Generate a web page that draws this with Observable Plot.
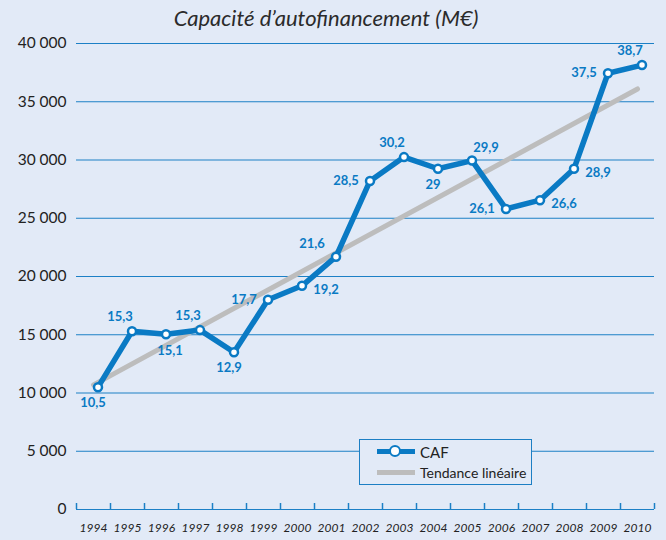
<!DOCTYPE html>
<html>
<head>
<meta charset="utf-8">
<script src="https://cdn.jsdelivr.net/npm/d3@7"></script>
<script src="https://cdn.jsdelivr.net/npm/@observablehq/plot@0.6"></script>
<style>
  html, body { margin: 0; padding: 0; background: #e2eaf7; }
  #wrap { position: relative; width: 666px; height: 540px; background: #e2eaf7; overflow: hidden; font-family: Lato, "Open Sans", sans-serif; }
  #title { height: 30px; line-height: 30px; font-size: 22px; font-style: italic; color: #2b2b2b; text-align: center; position: relative; left: -7px; top: 3px; }
  #legend { position: absolute; left: 359px; top: 439px; width: 173px; height: 46px; border: 1px solid #1c7fc4; background: #e2eaf7; box-sizing: border-box; }
  .lg-row { position: absolute; left: 0; width: 100%; height: 20px; }
  .lg-line { position: absolute; left: 17px; width: 38px; height: 5px; }
  .lg-text { position: absolute; left: 60px; font-size: 14px; color: #222; white-space: nowrap; }
  .lg-dot { position: absolute; left: 29px; width: 8px; height: 8px; border-radius: 50%; background: #fff; border: 2.5px solid #0a7ac4; }
</style>
</head>
<body>
<div id="wrap">
  <div id="title">Capacité d’autofinancement (M€)</div>
  <div id="chart"></div>
  <div id="legend">
    <div class="lg-row" style="top:2px">
      <div class="lg-line" style="top:7px;background:#0a7ac4"></div>
      <div class="lg-dot" style="top:2.5px"></div>
      <div class="lg-text" style="top:1px;font-size:15px">CAF</div>
    </div>
    <div class="lg-row" style="top:22px">
      <div class="lg-line" style="top:8px;background:#bdbdbd"></div>
      <div class="lg-text" style="top:2px">Tendance linéaire</div>
    </div>
  </div>
</div>
<script>
const years = [1994, 1995, 1996, 1997, 1998, 1999, 2000, 2001, 2002, 2003, 2004, 2005, 2006, 2007, 2008, 2009, 2010];
const cafValues = [10500, 15300, 15050, 15400, 13500, 18000, 19200, 21700, 28200, 30250, 29250, 29950, 25800, 26550, 29250, 37450, 38150];
const cafLabels = ["10,5", "15,3", "15,1", "15,3", "12,9", "17,7", "19,2", "21,6", "28,5", "30,2", "29", "29,9", "26,1", "26,6", "28,9", "37,5", "38,7"];
const labelPlacement = ["below", "above", "belowRight", "above", "below", "left", "right", "aboveLeft", "left", "above", "below", "aboveRight", "left", "right", "right", "left", "above"];
const trendYears = [1994, 2010];
const trendValues = [10700, 36100];
const yTicks = [0, 5000, 10000, 15000, 20000, 25000, 30000, 35000, 40000];

const blue = "#0a7ac4";
const gridBlue = "#1c80c6";
const offsets = {
  below: [-5, 16], belowRight: [4, 17], above: [-12, -14], aboveLeft: [-24, -13],
  aboveRight: [14, -13], left: [-24, 0], right: [24, 4]
};

const caf = years.map((year, i) => ({year, value: cafValues[i], label: cafLabels[i], place: labelPlacement[i]}));
const trend = trendYears.map((year, i) => ({year, value: trendValues[i]}));
const bounds = [...years.map(y => y - 0.5), years[years.length - 1] + 0.5];
const fmt = v => d3.format(",")(v).replace(/,/g, "\u202f");

const labelMarks = Object.entries(offsets).map(([place, [dx, dy]]) =>
  Plot.text(caf.filter(d => d.place === place), {
    x: "year", y: "value", text: "label", dx: 4.5 + dx, dy,
    fill: blue, fontWeight: "bold", fontSize: 13, textAnchor: "middle", lineAnchor: "middle"
  })
);

const chart = Plot.plot({
  width: 666,
  height: 510,
  marginLeft: 76,
  marginRight: 12,
  marginTop: 13,
  marginBottom: 31,
  style: {fontFamily: "Lato, 'Open Sans', sans-serif", background: "transparent", overflow: "visible"},
  x: {domain: [bounds[0], bounds[bounds.length - 1]]},
  y: {domain: [0, 40000]},
  marks: [
    Plot.ruleY(yTicks, {stroke: gridBlue, strokeWidth: 1.2}),
    Plot.axisY({ticks: yTicks, tickSize: 0, tickPadding: 10, tickFormat: fmt, fontSize: 15.5, fill: "#222", label: null}),
    Plot.axisX({ticks: bounds, tickSize: 6, dy: -6, tickFormat: () => "", stroke: gridBlue, strokeWidth: 1.5, label: null}),
    Plot.axisX({ticks: years, tickSize: 0, tickPadding: 14, tickFormat: d => String(d), fontSize: 12, fontStyle: "italic", fill: "#222", label: null}),
    Plot.line(trend, {x: "year", y: "value", stroke: "#bdbdbd", strokeWidth: 5}),
    Plot.line(caf, {x: "year", y: "value", stroke: blue, strokeWidth: 5.5, dx: 4.5}),
    Plot.dot(caf, {x: "year", y: "value", r: 4, fill: "white", stroke: blue, strokeWidth: 2.5, dx: 4.5}),
    ...labelMarks
  ]
});
document.getElementById("chart").appendChild(chart);
</script>
</body>
</html>
